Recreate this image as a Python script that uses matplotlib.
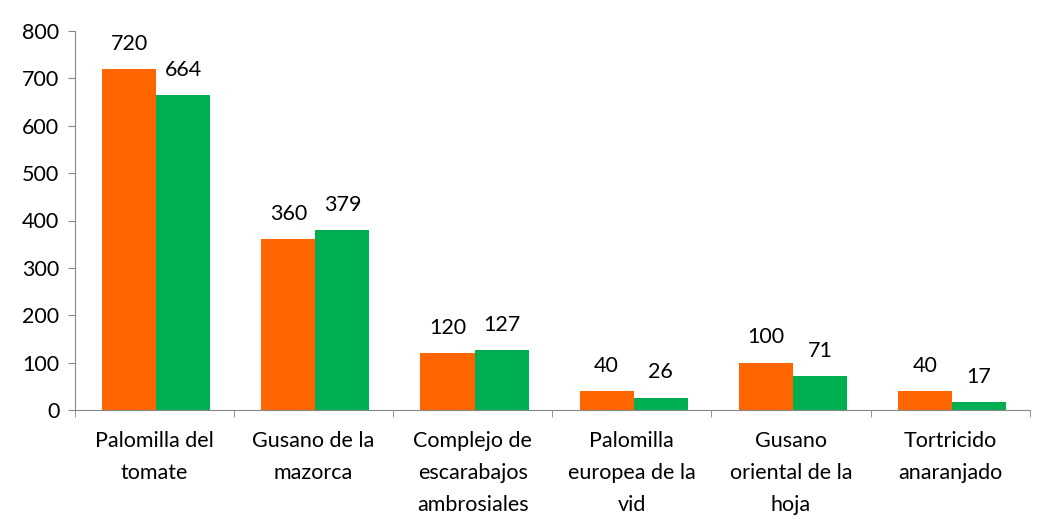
import matplotlib
matplotlib.use("Agg")
import matplotlib.pyplot as plt
import numpy as np

plt.rcParams['font.family'] = ['Lato', 'DejaVu Sans']

categorias = ["Palomilla del\ntomate", "Gusano de la\nmazorca", "Complejo de\nescarabajos\nambrosiales",
              "Palomilla\neuropea de la\nvid", "Gusano\noriental de la\nhoja", "Tortricido\nanaranjado"]
serie_naranja = [720, 360, 120, 40, 100, 40]
serie_verde = [664, 379, 127, 26, 71, 17]

x = np.arange(len(categorias))
ancho = 0.34

fig = plt.figure(figsize=(10.37, 5.25), dpi=100)
ax = fig.add_axes([0.072, 0.219, 0.921, 0.722])

b1 = ax.bar(x - ancho / 2 + 0.012, serie_naranja, ancho, color="#FF6600")
b2 = ax.bar(x + ancho / 2 + 0.012, serie_verde, ancho, color="#00B050")

for barras in (b1, b2):
    for b in barras:
        ax.annotate(f"{int(b.get_height())}", (b.get_x() + b.get_width() / 2, b.get_height()),
                    xytext=(0, 11), textcoords="offset points", ha="center", va="bottom", fontsize=15.5)

ax.set_xlim(-0.5, len(categorias) - 0.5)
ax.set_ylim(0, 800)
ax.set_yticks(range(0, 801, 100))
ax.tick_params(axis="y", labelsize=15.5, direction="out", length=5, color="#868686", pad=6)
ax.set_xticks(x)
ax.set_xticklabels(categorias, fontsize=15.5, linespacing=1.75)
ax.tick_params(axis="x", length=0, pad=15)
ax.set_xticks(np.arange(-0.5, len(categorias), 1), minor=True)
ax.tick_params(axis="x", which="minor", length=5, color="#868686", direction="out")

for lado in ("top", "right"):
    ax.spines[lado].set_visible(False)
for lado in ("left", "bottom"):
    ax.spines[lado].set_color("#868686")

fig.savefig("out.png", dpi=100)
